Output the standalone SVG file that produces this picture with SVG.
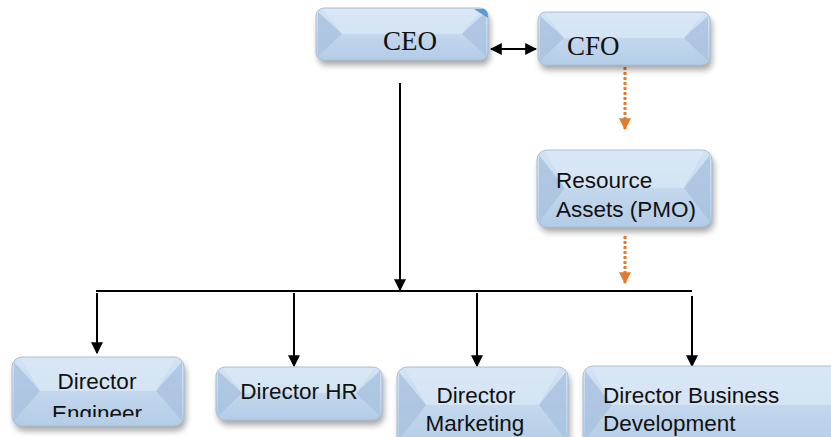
<svg xmlns="http://www.w3.org/2000/svg" width="831" height="437" viewBox="0 0 831 437">
<style>
.box{fill:url(#g);stroke:#a9c0d8;stroke-width:1}
.side{fill:#a9c2de;opacity:.8}
.top{fill:#d9e7f5;opacity:.8}
.sh{fill:#000;opacity:.35;filter:url(#blur)}
.t{font-family:"Liberation Sans","Open Sans",sans-serif;font-size:22.5px;fill:#111}
.ts{font-family:"Liberation Serif",serif;font-size:27px;fill:#111}
.blk{stroke:#000;stroke-width:2;fill:none}
.org{stroke:#e07b2f;stroke-width:3;stroke-dasharray:3 2;fill:none}
</style>
<defs>
<linearGradient id="g" x1="0" y1="0" x2="0" y2="1">
<stop offset="0" stop-color="#d3e3f4"/>
<stop offset="1" stop-color="#b3cce6"/>
</linearGradient>
<filter id="blur" x="-10%" y="-10%" width="120%" height="140%"><feGaussianBlur stdDeviation="3"/></filter>
<marker id="ab" viewBox="0 0 10 10" refX="9" refY="5" markerWidth="6" markerHeight="6" orient="auto-start-reverse"><path d="M0,0 L10,5 L0,10 z" fill="#000"/></marker>
<marker id="ao" viewBox="0 0 10 10" refX="9" refY="5" markerWidth="4" markerHeight="4" orient="auto"><path d="M0,0 L10,5 L0,10 z" fill="#e07b2f"/></marker>
<clipPath id="ce"><rect x="0" y="0" width="831" height="417"/></clipPath>
</defs>

<g id="connectors">
<line class="blk" x1="491" y1="49" x2="536" y2="49" marker-start="url(#ab)" marker-end="url(#ab)"/>
<line class="org" x1="625" y1="67" x2="625" y2="129" marker-end="url(#ao)"/>
<line class="org" x1="625" y1="236" x2="625" y2="283" marker-end="url(#ao)"/>
<line class="blk" x1="400" y1="83" x2="400" y2="290" marker-end="url(#ab)"/>
<line class="blk" x1="96" y1="291" x2="692" y2="291"/>
<line class="blk" x1="97" y1="293" x2="97" y2="353" marker-end="url(#ab)"/>
<line class="blk" x1="294" y1="293" x2="294" y2="366" marker-end="url(#ab)"/>
<line class="blk" x1="477" y1="293" x2="477" y2="366" marker-end="url(#ab)"/>
<line class="blk" x1="692" y1="296" x2="692" y2="366" marker-end="url(#ab)"/>
</g>

<g id="ceo">
<rect class="sh" x="318" y="13" width="172" height="52" rx="8"/>
<rect class="box" x="316" y="8" width="172" height="52" rx="8"/>
<polygon class="side" points="318,12 342,34 318,56"/>
<polygon class="side" points="486,12 462,34 486,56"/>
<polygon class="top" points="322,9 482,9 462,34 342,34"/>
<path d="M474,9 L484,9 Q488,10 488,18 Z" fill="#5b9bd5"/>
<text class="ts" x="410" y="50" text-anchor="middle">CEO</text>
</g>

<g id="cfo">
<rect class="sh" x="540" y="17" width="172" height="53" rx="8"/>
<rect class="box" x="538" y="12" width="172" height="53" rx="8"/>
<polygon class="side" points="540,16 564,38 540,61"/>
<polygon class="side" points="708,16 684,38 708,61"/>
<polygon class="top" points="544,13 704,13 684,38 564,38"/>
<text class="ts" x="567" y="55">CFO</text>
</g>

<g id="resource">
<rect class="sh" x="539" y="155" width="175" height="77" rx="10"/>
<rect class="box" x="537" y="150" width="175" height="77" rx="10"/>
<polygon class="side" points="539,155 565,188 539,222"/>
<polygon class="side" points="710,155 684,188 710,222"/>
<polygon class="top" points="545,151 704,151 684,188 565,188"/>
<text class="t" x="556" y="188">Resource</text>
<text class="t" x="556" y="217">Assets (PMO)</text>
</g>

<g id="eng">
<rect class="sh" x="14" y="362" width="172" height="69" rx="10"/>
<rect class="box" x="12" y="357" width="172" height="69" rx="10"/>
<polygon class="side" points="14,362 40,391 14,421"/>
<polygon class="side" points="182,362 156,391 182,421"/>
<polygon class="top" points="20,358 176,358 156,391 40,391"/>
<text class="t" x="97" y="389" text-anchor="middle">Director</text>
<text class="t" x="97" y="421" text-anchor="middle" clip-path="url(#ce)">Engineer</text>
</g>

<g id="hr">
<rect class="sh" x="218" y="372" width="166" height="53" rx="9"/>
<rect class="box" x="216" y="367" width="166" height="53" rx="9"/>
<polygon class="side" points="218,371 242,393 218,416"/>
<polygon class="side" points="380,371 356,393 380,416"/>
<polygon class="top" points="223,368 375,368 356,393 242,393"/>
<text class="t" x="299" y="399" text-anchor="middle">Director HR</text>
</g>

<g id="marketing">
<rect class="sh" x="399" y="372" width="171" height="80" rx="10"/>
<rect class="box" x="397" y="367" width="171" height="80" rx="10"/>
<polygon class="side" points="399,372 426,405 399,440"/>
<polygon class="side" points="566,372 539,405 566,440"/>
<polygon class="top" points="405,368 560,368 539,405 426,405"/>
<text class="t" x="476" y="403" text-anchor="middle">Director</text>
<text class="t" x="475" y="431" text-anchor="middle">Marketing</text>
</g>

<g id="bizdev">
<rect class="sh" x="585" y="371" width="260" height="80" rx="10"/>
<rect class="box" x="583" y="366" width="260" height="80" rx="10"/>
<polygon class="side" points="585,371 612,405 585,440"/>
<polygon class="top" points="591,367 835,367 835,405 612,405"/>
<text class="t" x="603" y="403">Director Business</text>
<text class="t" x="603" y="431">Development</text>
</g>
</svg>
